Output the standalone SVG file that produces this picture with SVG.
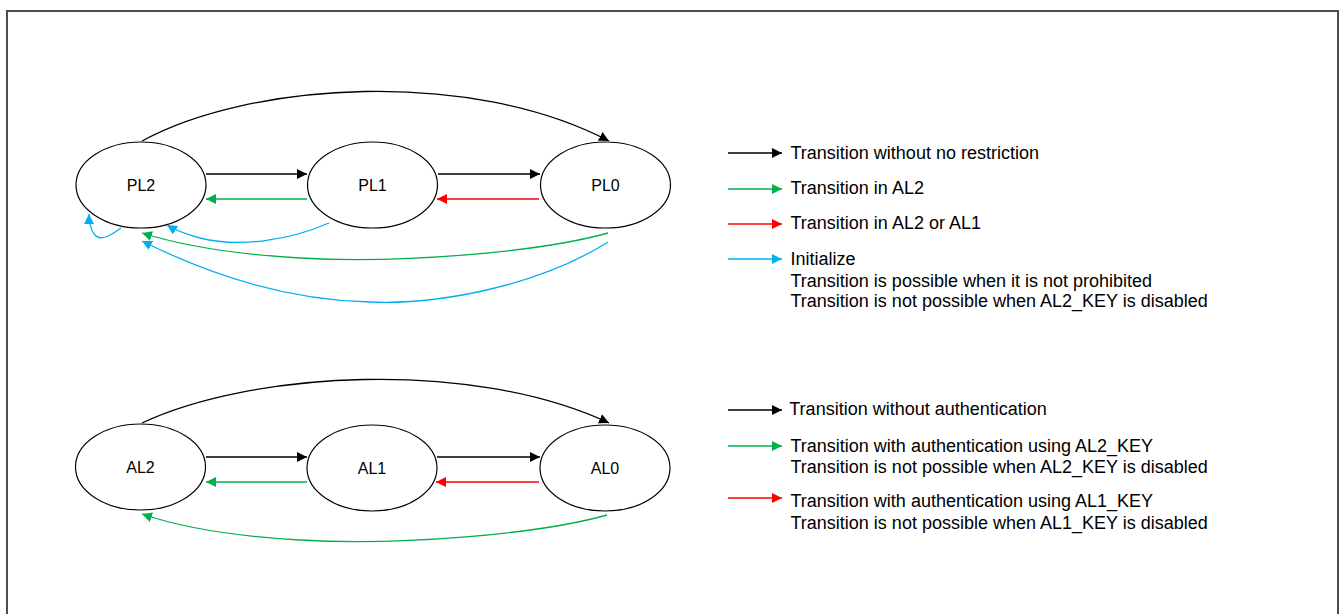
<svg xmlns="http://www.w3.org/2000/svg" width="1340" height="614" viewBox="0 0 1340 614">
<style>
.frame{fill:#fff;stroke:#4d4d4d;stroke-width:2}
.node{fill:#fff;stroke:#000;stroke-width:1.2}
.lbl{font-family:"Liberation Sans",Arial,sans-serif;font-size:16px;fill:#000}
.leg{font-family:"Liberation Sans",Arial,sans-serif;font-size:18px;fill:#000}
.e{fill:none;stroke-width:1.3}
.k{stroke:#000}.g{stroke:#00B050}.r{stroke:#FF0000}.b{stroke:#00B0F0}
</style>
<defs>
<marker id="mk" markerUnits="userSpaceOnUse" markerWidth="10" markerHeight="10" refX="10" refY="5" orient="auto" viewBox="0 0 10 10"><path d="M0,0 L10,5 L0,10 z" fill="#000"/></marker>
<marker id="mg" markerUnits="userSpaceOnUse" markerWidth="10" markerHeight="10" refX="10" refY="5" orient="auto" viewBox="0 0 10 10"><path d="M0,0 L10,5 L0,10 z" fill="#00B050"/></marker>
<marker id="mr" markerUnits="userSpaceOnUse" markerWidth="10" markerHeight="10" refX="10" refY="5" orient="auto" viewBox="0 0 10 10"><path d="M0,0 L10,5 L0,10 z" fill="#FF0000"/></marker>
<marker id="mb" markerUnits="userSpaceOnUse" markerWidth="10" markerHeight="10" refX="10" refY="5" orient="auto" viewBox="0 0 10 10"><path d="M0,0 L10,5 L0,10 z" fill="#00B0F0"/></marker>
</defs>
<rect class="frame" x="7" y="11" width="1331" height="620"/>

<g id="connectors">
<path class="e k" d="M142,141 C250,82 470,68 609,141" marker-end="url(#mk)"/>
<path class="e k" d="M206,174 L307,174" marker-end="url(#mk)"/>
<path class="e g" d="M307,199 L206,199" marker-end="url(#mg)"/>
<path class="e k" d="M438,174 L540,174" marker-end="url(#mk)"/>
<path class="e r" d="M539,199 L437,199" marker-end="url(#mr)"/>
<path class="e g" d="M608,233 C540,252 400,264 300,258 C230,254 180,245 142,233" marker-end="url(#mg)"/>
<path class="e b" d="M608,242 C540,285 440,305 370,302 C280,300 200,270 142,241" marker-end="url(#mb)"/>
<path class="e b" d="M329,223 C290,240 240,248 200,238 C185,234 175,230 167,225" marker-end="url(#mb)"/>
<path class="e b" d="M121,228 C110,236 100,242 94,234 C90,228 89,222 89,214" marker-end="url(#mb)"/>

<path class="e k" d="M142,423 C250,372 470,358 609,423" marker-end="url(#mk)"/>
<path class="e k" d="M206,457 L307,457" marker-end="url(#mk)"/>
<path class="e g" d="M307,482 L206,482" marker-end="url(#mg)"/>
<path class="e k" d="M437,457 L540,457" marker-end="url(#mk)"/>
<path class="e r" d="M539,482 L436,482" marker-end="url(#mr)"/>
<path class="e g" d="M607,515 C540,534 400,546 300,540 C230,536 180,527 142,514" marker-end="url(#mg)"/>
</g>

<g id="PL2"><ellipse class="node" cx="141" cy="185" rx="65" ry="43"/><text class="lbl" x="141" y="191" text-anchor="middle">PL2</text></g>
<g id="PL1"><ellipse class="node" cx="372.5" cy="185" rx="65" ry="43"/><text class="lbl" x="372.5" y="191" text-anchor="middle">PL1</text></g>
<g id="PL0"><ellipse class="node" cx="605.5" cy="185" rx="65" ry="43"/><text class="lbl" x="605.5" y="191" text-anchor="middle">PL0</text></g>
<g id="AL2"><ellipse class="node" cx="140.5" cy="467" rx="65" ry="43"/><text class="lbl" x="140.5" y="473" text-anchor="middle">AL2</text></g>
<g id="AL1"><ellipse class="node" cx="372" cy="468" rx="65" ry="43"/><text class="lbl" x="372" y="474" text-anchor="middle">AL1</text></g>
<g id="AL0"><ellipse class="node" cx="605" cy="468" rx="65" ry="43"/><text class="lbl" x="605" y="474" text-anchor="middle">AL0</text></g>

<g id="legend-pl">
<path class="e k" d="M728,153 L782,153" marker-end="url(#mk)"/>
<text class="leg" x="790.5" y="159.3">Transition without no restriction</text>
<path class="e g" d="M728,189 L782,189" marker-end="url(#mg)"/>
<text class="leg" x="790.5" y="194.3">Transition in AL2</text>
<path class="e r" d="M728,224 L782,224" marker-end="url(#mr)"/>
<text class="leg" x="790.5" y="228.5">Transition in AL2 or AL1</text>
<path class="e b" d="M728,259 L782,259" marker-end="url(#mb)"/>
<text class="leg" x="790.5" y="264.5">Initialize</text>
<text class="leg" x="790.5" y="286.5">Transition is possible when it is not prohibited</text>
<text class="leg" x="790.5" y="307.3">Transition is not possible when AL2_KEY is disabled</text>
</g>

<g id="legend-al">
<path class="e k" d="M728,410 L782,410" marker-end="url(#mk)"/>
<text class="leg" x="789.3" y="415">Transition without authentication</text>
<path class="e g" d="M728,446 L782,446" marker-end="url(#mg)"/>
<text class="leg" x="790.5" y="451.7">Transition with authentication using AL2_KEY</text>
<text class="leg" x="790.5" y="472.7">Transition is not possible when AL2_KEY is disabled</text>
<path class="e r" d="M728,498 L782,498" marker-end="url(#mr)"/>
<text class="leg" x="790.5" y="506.7">Transition with authentication using AL1_KEY</text>
<text class="leg" x="790.5" y="529">Transition is not possible when AL1_KEY is disabled</text>
</g>
</svg>
